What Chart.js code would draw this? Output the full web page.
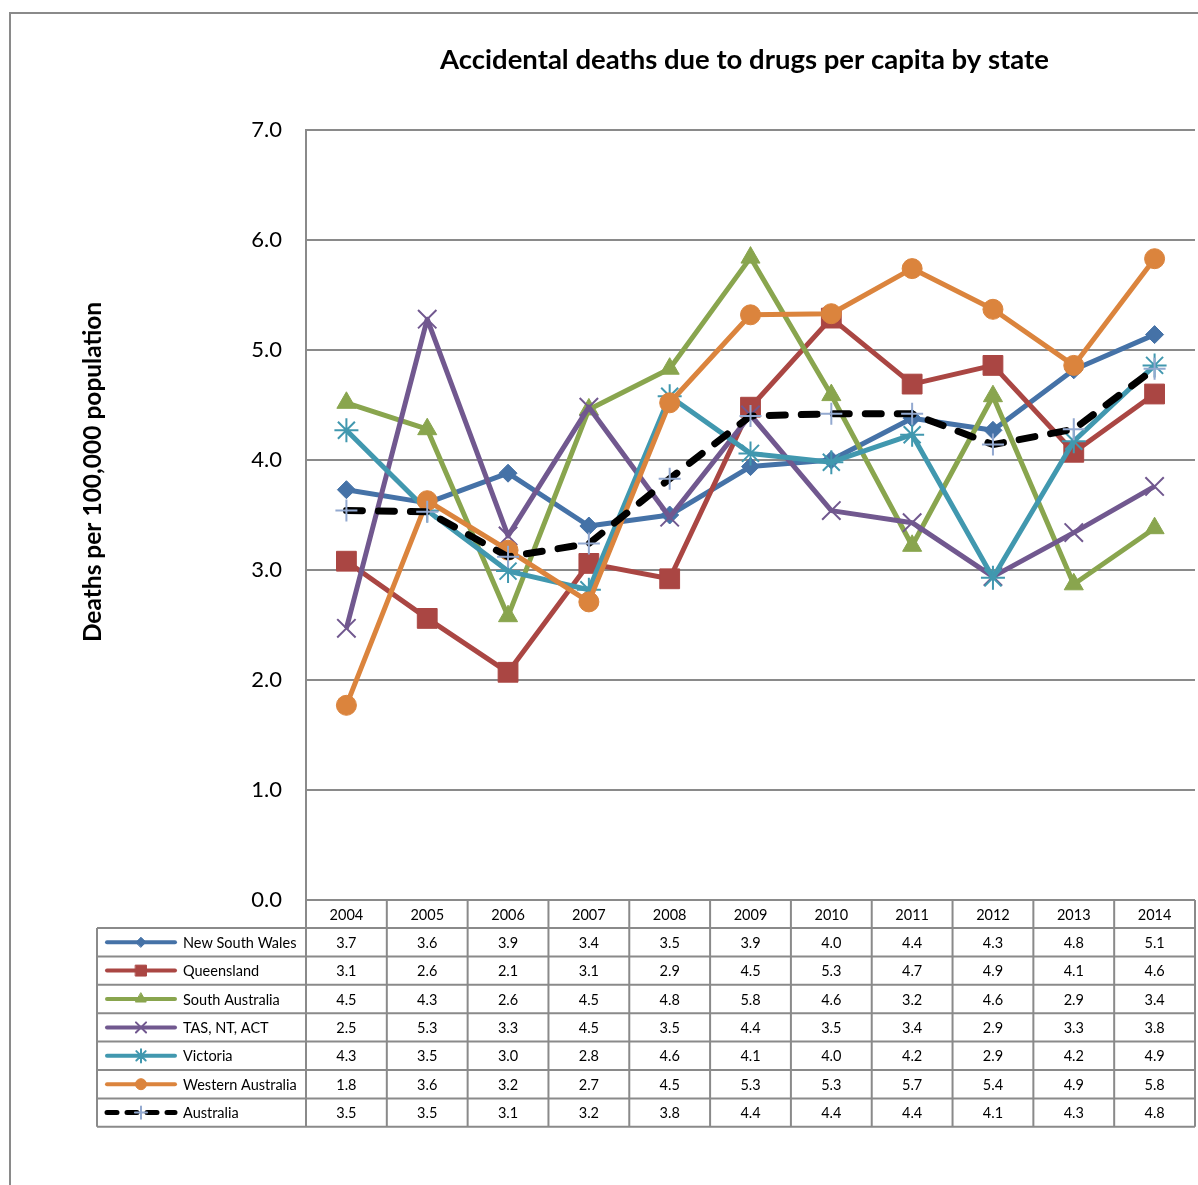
<!DOCTYPE html>
<html>
<head>
<meta charset="utf-8">
<title>Accidental deaths due to drugs per capita by state</title>
<script src="https://cdn.jsdelivr.net/npm/chart.js@4/dist/chart.umd.min.js"></script>
<style>
  html, body { margin: 0; padding: 0; background: #fff; }
  #wrap { width: 1198px; height: 1185px; }
</style>
</head>
<body>
<div id="wrap"><canvas id="chart" width="1198" height="1185"></canvas></div>
<script>
// --- data ---
const years = ['2004', '2005', '2006', '2007', '2008', '2009', '2010', '2011', '2012', '2013', '2014'];
const nsw = [3.73, 3.61, 3.88, 3.40, 3.50, 3.94, 4.00, 4.38, 4.27, 4.82, 5.14];
const qld = [3.08, 2.56, 2.07, 3.06, 2.92, 4.48, 5.29, 4.69, 4.86, 4.07, 4.60];
const sa = [4.52, 4.28, 2.58, 4.46, 4.83, 5.84, 4.59, 3.22, 4.58, 2.87, 3.38];
const tas = [2.47, 5.28, 3.31, 4.48, 3.48, 4.41, 3.54, 3.43, 2.94, 3.34, 3.76];
const vic = [4.27, 3.54, 2.99, 2.82, 4.58, 4.06, 3.98, 4.23, 2.93, 4.17, 4.86];
const wa = [1.77, 3.63, 3.18, 2.71, 4.52, 5.32, 5.33, 5.74, 5.37, 4.86, 5.83];
const aus = [3.54, 3.53, 3.12, 3.24, 3.83, 4.40, 4.42, 4.42, 4.14, 4.28, 4.83];
const yTicks = [0, 1, 2, 3, 4, 5, 6, 7];

const TITLE = 'Accidental deaths due to drugs per capita by state';
const Y_TITLE = 'Deaths per 100,000 population';
const FONT = 'Lato, "Open Sans", sans-serif';
const GRID = '#8a8a8a';

// series styles (Excel 2007 palette)
const series = [
    { label: 'New South Wales', data: nsw, color: '#4572A7', marker: 'rectRot', radius: 9, mColor: '#4572A7', mWidth: 1 },
    { label: 'Queensland', data: qld, color: '#AA4643', marker: 'rect', radius: 14, mColor: '#AA4643', mWidth: 1 },
    { label: 'South Australia', data: sa, color: '#89A54E', marker: 'triangle', radius: 11, mColor: '#89A54E', mWidth: 1 },
    { label: 'TAS, NT, ACT', data: tas, color: '#71588F', marker: 'crossRot', radius: 13, mColor: '#71588F', mWidth: 2 },
    { label: 'Victoria', data: vic, color: '#4198AF', marker: 'star', radius: 12, mColor: '#4198AF', mWidth: 2 },
    { label: 'Western Australia', data: wa, color: '#DB843D', marker: 'circle', radius: 10, mColor: '#DB843D', mWidth: 1 },
    { label: 'Australia', data: aus, color: '#000000', marker: 'cross', radius: 11, mColor: '#93A9D0', mWidth: 2, dash: [16, 16] }
];

const datasets = series.map((s, i) => ({
    label: s.label,
    data: s.data,
    borderColor: s.color,
    backgroundColor: s.mColor,
    borderWidth: s.dash ? 7 : 5,
    borderDash: s.dash || [],
    borderCapStyle: s.dash ? 'round' : 'butt',
    borderJoinStyle: 'round',
    pointStyle: s.marker,
    pointRadius: s.radius,
    pointBorderColor: s.mColor,
    pointBackgroundColor: s.mColor,
    pointBorderWidth: s.mWidth,
    tension: 0,
    order: series.length - i   // later series drawn on top
}));

// gray frame, chart title and rotated axis title
const framePlugin = {
    id: 'frame',
    beforeDraw(chart) {
        const ctx = chart.ctx;
        const area = chart.chartArea;
        ctx.save();
        ctx.fillStyle = '#fff';
        ctx.fillRect(0, 0, chart.width, chart.height);
        ctx.strokeStyle = GRID;
        ctx.lineWidth = 2;
        ctx.beginPath();
        ctx.moveTo(10, chart.height);
        ctx.lineTo(10, 13);
        ctx.lineTo(chart.width, 13);
        ctx.stroke();

        ctx.fillStyle = '#000';
        ctx.textAlign = 'center';
        ctx.textBaseline = 'middle';
        ctx.font = 'bold 27.5px ' + FONT;
        ctx.fillText(TITLE, (area.left + area.right) / 2 - 6, 60);

        ctx.translate(93, 472);
        ctx.rotate(-Math.PI / 2);
        ctx.font = 'bold 24.5px ' + FONT;
        ctx.fillText(Y_TITLE, 0, 0);
        ctx.restore();
    }
};

// data table under the plot, one column per category
const tablePlugin = {
    id: 'dataTable',
    afterDraw(chart) {
        const ctx = chart.ctx;
        const xs = chart.scales.x;
        const area = chart.chartArea;
        const top = area.bottom;
        const rowH = 28.4;
        const headH = 28;
        const legLeft = 97;
        const n = years.length;
        const bottom = top + headH + rowH * series.length;

        const edges = [area.left];
        for (let i = 0; i < n - 1; i++) {
            edges.push((xs.getPixelForTick(i) + xs.getPixelForTick(i + 1)) / 2);
        }
        edges.push(area.right);

        ctx.save();
        ctx.strokeStyle = GRID;
        ctx.lineWidth = 2;
        ctx.beginPath();
        ctx.moveTo(area.left, top);
        ctx.lineTo(area.right, top);
        for (let r = 0; r <= series.length; r++) {
            const y = top + headH + r * rowH;
            ctx.moveTo(legLeft, y);
            ctx.lineTo(area.right, y);
        }
        edges.forEach(x => {
            ctx.moveTo(x, top);
            ctx.lineTo(x, bottom);
        });
        ctx.moveTo(legLeft, top + headH);
        ctx.lineTo(legLeft, bottom);
        ctx.stroke();

        ctx.fillStyle = '#000';
        ctx.font = '14.5px ' + FONT;
        ctx.textAlign = 'center';
        ctx.textBaseline = 'middle';
        years.forEach((yr, i) => {
            ctx.fillText(yr, xs.getPixelForTick(i), top + headH / 2 + 1);
        });

        series.forEach((s, r) => {
            const cy = top + headH + r * rowH + rowH / 2 + 1;
            ctx.fillStyle = '#000';
            ctx.textAlign = 'center';
            s.data.forEach((v, i) => {
                ctx.fillText(v.toFixed(1), xs.getPixelForTick(i), cy);
            });

            // legend key: line sample with marker
            ctx.save();
            ctx.strokeStyle = s.color;
            ctx.lineWidth = s.dash ? 5 : 4;
            ctx.lineCap = 'round';
            ctx.setLineDash(s.dash ? [10, 10] : []);
            ctx.beginPath();
            ctx.moveTo(107, cy - 1);
            ctx.lineTo(175, cy - 1);
            ctx.stroke();
            ctx.setLineDash([]);
            ctx.fillStyle = s.mColor;
            ctx.strokeStyle = s.mColor;
            ctx.lineWidth = s.mWidth;
            Chart.helpers.drawPoint(ctx, {
                pointStyle: s.marker,
                radius: s.radius * 0.55,
                borderWidth: s.mWidth
            }, 141, cy - 1);
            ctx.restore();

            ctx.fillStyle = '#000';
            ctx.textAlign = 'left';
            ctx.fillText(s.label, 183, cy);
        });
        ctx.restore();
    }
};

new Chart(document.getElementById('chart'), {
    type: 'line',
    data: { labels: years, datasets },
    options: {
        responsive: false,
        animation: false,
        devicePixelRatio: 1,
        layout: { autoPadding: false, padding: { left: 0, right: 3, top: 130, bottom: 0 } },
        plugins: {
            legend: { display: false },
            tooltip: { enabled: false },
            title: { display: false }
        },
        scales: {
            x: {
                type: 'category',
                offset: true,
                grid: { display: false },
                border: { display: false },
                ticks: { display: false },
                afterFit(scale) { scale.height = 285; }
            },
            y: {
                min: 0,
                max: 7,
                afterBuildTicks(scale) { scale.ticks = yTicks.map(v => ({ value: v })); },
                grid: { color: GRID, lineWidth: 2, drawTicks: false },
                border: { display: true, color: GRID, width: 2 },
                ticks: {
                    color: '#000',
                    padding: 24,
                    font: { family: FONT, size: 22 },
                    callback: v => Number(v).toFixed(1)
                },
                afterFit(scale) { scale.width = 306; }
            }
        }
    },
    plugins: [framePlugin, tablePlugin]
});
</script>
</body>
</html>
